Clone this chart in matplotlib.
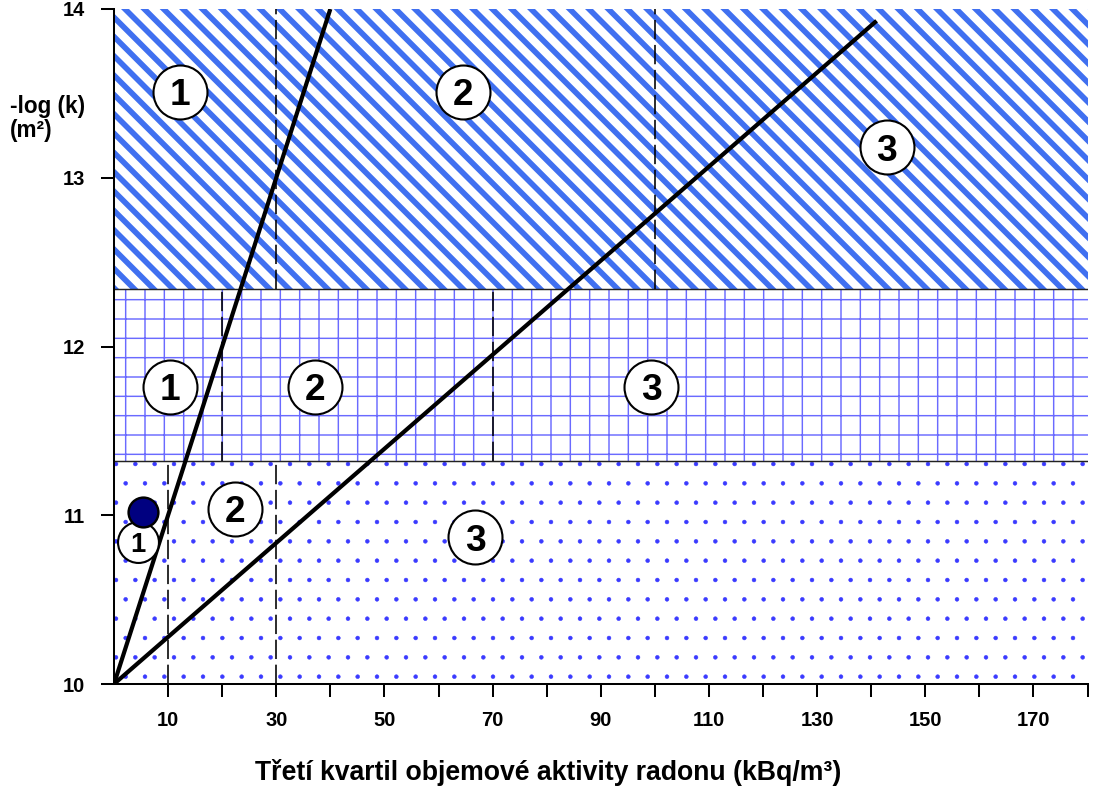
import numpy as np
import matplotlib
matplotlib.use("Agg")
from matplotlib import pyplot as plt

plt.rcParams['font.family'] = ['Liberation Sans', 'DejaVu Sans']
plt.rcParams['font.weight'] = 'bold'

# zones along -log(k): bottom, middle, top
zone_y = [10, 11.32, 12.34, 14]
zone_hatch = ['.', '+', '\\\\']
zone_color = ['#3a3aff', '#6a6aff', '#4070f0']
zone_hlw = [0.3, 0.9, 3.5]
# dashed class limits inside each zone (kBq/m3)
zone_limits = [[10, 30], [20, 70], [30, 100]]

# boundary lines
line1_x = [0, 40]
line1_y = [10, 14]
line2_x = [0, 141]
line2_y = [10, 13.93]

# circled category numbers
lab_text = ['1', '2', '3', '1', '2', '3', '1', '2', '3']
lab_x = [12.2, 64.5, 142.9, 10.4, 37.2, 99.3, 4.4, 22.4, 66.8]
lab_y = [13.51, 13.51, 13.18, 11.76, 11.76, 11.76, 10.84, 11.04, 10.87]
lab_big = [True, True, True, True, True, True, False, True, True]

# measured point
pt_x = [5.4]
pt_y = [11.02]

xticks = np.arange(10, 181, 10)
xlabels = [str(t) if t % 20 == 10 else '' for t in xticks]
yticks = [10, 11, 12, 13, 14]

dpi = 116
fig = plt.figure(figsize=(1096 / dpi, 786 / dpi), dpi=dpi)
ax = fig.add_axes([114 / 1096, 1 - 684 / 786, (1087.5 - 114) / 1096, (684 - 9) / 786])

for i in range(3):
    plt.rcParams['hatch.linewidth'] = zone_hlw[i]
    span = ax.axhspan(zone_y[i], zone_y[i + 1], facecolor='white',
                      edgecolor=zone_color[i], hatch=zone_hatch[i], lw=0, zorder=0)
    if hasattr(span, 'set_hatch_linewidth'):
        span.set_hatch_linewidth(zone_hlw[i])
    for xv in zone_limits[i]:
        ax.plot([xv, xv], [zone_y[i], zone_y[i + 1]], color='black', lw=1.0,
                dashes=(12, 3.5), zorder=2)

for yb in zone_y[1:3]:
    ax.axhline(yb, color='#222222', lw=0.9, zorder=1)

ax.plot(line1_x, line1_y, color='black', lw=2.6, zorder=3, solid_capstyle='butt')
ax.plot(line2_x, line2_y, color='black', lw=2.6, zorder=3, solid_capstyle='butt')

for t, x, y, big in zip(lab_text, lab_x, lab_y, lab_big):
    s = 33.5 ** 2 if big else 25.4 ** 2
    fs = 23 if big else 17
    ax.scatter([x], [y], s=s, facecolor='white', edgecolor='black', lw=1.3, zorder=4)
    ax.text(x, y, t, fontsize=fs, fontweight='bold', ha='center', va='center_baseline',
            zorder=5)

ax.scatter(pt_x, pt_y, s=18.5 ** 2, facecolor='#000080', edgecolor='black', lw=1.5, zorder=6)

ax.set_xlim(0, 180)
ax.set_ylim(10, 14)
ax.set_xticks(xticks)
ax.set_xticklabels(xlabels)
ax.set_yticks(yticks)
ax.tick_params(axis='both', length=8, width=1.25, labelsize=12.5, direction='out')
ax.tick_params(axis='x', pad=8.5)
ax.tick_params(axis='y', pad=10)
for lab in ax.get_xticklabels() + ax.get_yticklabels():
    lab.set_fontweight('bold')
ax.spines['top'].set_visible(False)
ax.spines['right'].set_visible(False)
ax.spines['left'].set_linewidth(1.25)
ax.spines['bottom'].set_linewidth(1.25)

fig.text(10 / 1096, 1 - 106 / 786, '-log (k)', fontsize=14, fontweight='bold',
         ha='left', va='center')
fig.text(10 / 1096, 1 - 130 / 786, '(m²)', fontsize=14, fontweight='bold',
         ha='left', va='center')
fig.text(0.5, 1 - 772 / 786, 'Třetí kvartil objemové aktivity radonu (kBq/m³)',
         fontsize=16.5, fontweight='bold', ha='center', va='center')

fig.savefig('out.png', dpi=dpi)
